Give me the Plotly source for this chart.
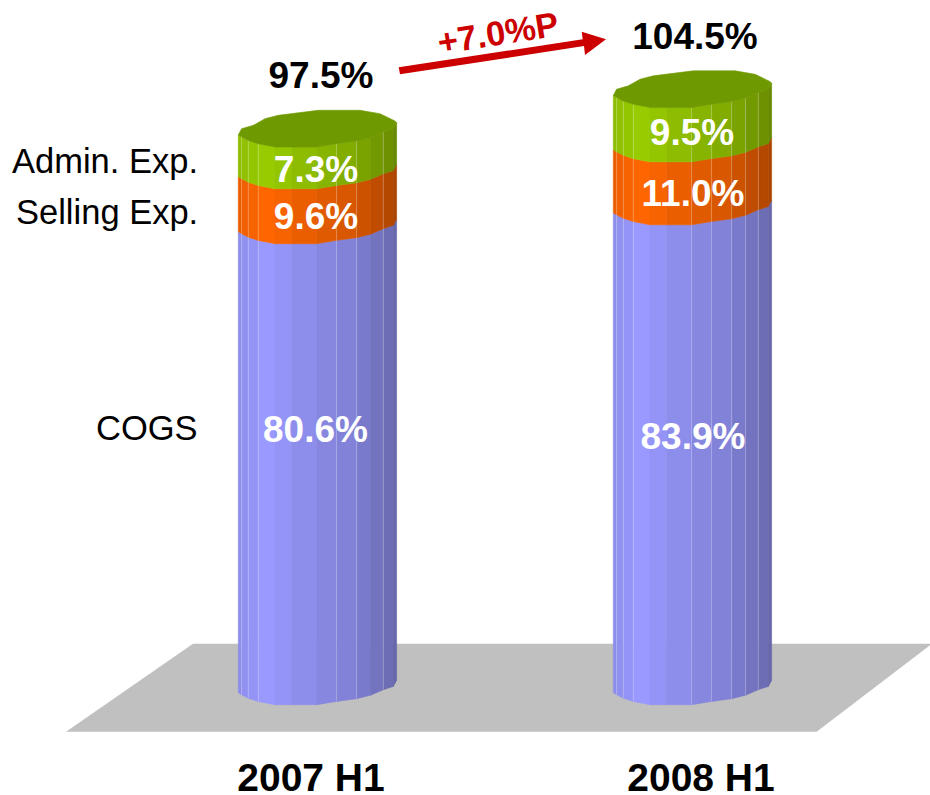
import plotly.graph_objects as go

# ---- chart values -------------------------------------------------
categories = ["2007 H1", "2008 H1"]
cogs = [80.6, 83.9]
selling = [9.6, 11.0]
admin = [7.3, 9.5]
totals = [97.5, 104.5]
series_names = ["COGS", "Selling Exp.", "Admin. Exp."]
change_label = "+7.0%P"

# ---- geometry and style -------------------------------------------
W, H = 930, 795
BASE_PX = 704.7          # pixel row of value 0 at the column's front
PX_PER_UNIT = 5.72
BAR_LEFT = [238.3, 613.3]
# column outline measured from its left edge, in px
FACET_X = [0, 3.3, 10, 20, 36.7, 53.3, 78.3, 98.3, 118.3, 132.3, 145, 155, 158.3]
FRONT_RISE = [12, 10, 6.5, 3.2, 0, 0, 0, 3.3, 6, 9.5, 15, 18.3, 24.3]
BACK_X = [158.3, 156.7, 141.7, 121.7, 80, 40, 26.7, 15, 3.3, 0]
BACK_RISE = [24.3, 26, 33.3, 36.7, 36.7, 31.7, 28.3, 21.7, 18.3, 12]
SHADE = [.92, .94, .97, 1, .97, .92, .88, .85, .80, .75, .71, .67]
SEG_RGB = [(153, 153, 255), (255, 102, 0), (153, 204, 0)]
TOP_COLOR = "#6F9900"
SEAMS = [[1, 2, 3, 7, 8, 10], [1, 2, 3, 6, 7, 8, 9, 10]]
LABEL_X = [[315.5, 316, 316], [693, 693, 692]]
LABEL_SHIFT = [[7.2, -0.7, -0.85], [4.35, -0.55, -0.15]]
TOTAL_X = [321, 695]
TOTAL_SHIFT = [11.9, 11.7]
CAT_X = [311, 701]
FONT = "Liberation Sans"


def val(rise_px):
    return rise_px / PX_PER_UNIT


def px_y(row):
    return (BASE_PX - row) / PX_PER_UNIT


def paper_path(points):
    return "M " + " L ".join(f"{x},{1 - y / H:.5f}" for x, y in points) + " Z"


segments = [cogs, selling, admin]
fig = go.Figure()

# faceted column bodies
stack_base = [0.0, 0.0]
for s, seg in enumerate(segments):
    r, g, b = SEG_RGB[s]
    for f, m in enumerate(SHADE):
        xs, ys = [], []
        for i in range(2):
            lo = stack_base[i]
            hi = lo + seg[i]
            xl = BAR_LEFT[i] + FACET_X[f]
            xr = BAR_LEFT[i] + FACET_X[f + 1]
            rl, rr = val(FRONT_RISE[f]), val(FRONT_RISE[f + 1])
            xs += [xl, xr, xr, xl, xl, None]
            ys += [lo + rl, lo + rr, hi + rr, hi + rl, lo + rl, None]
        colour = f"rgb({round(r * m)},{round(g * m)},{round(b * m)})"
        fig.add_trace(go.Scatter(x=xs, y=ys, mode="lines", fill="toself",
                                 fillcolor=colour, line=dict(color=colour, width=0.6),
                                 hoverinfo="skip", showlegend=False))
    stack_base = [stack_base[i] + seg[i] for i in range(2)]

# light seams between facets
sx, sy = [], []
for i in range(2):
    for k in SEAMS[i]:
        x = BAR_LEFT[i] + FACET_X[k]
        sx += [x, x, None]
        sy += [val(FRONT_RISE[k]), stack_base[i] + val(FRONT_RISE[k]), None]
fig.add_trace(go.Scatter(x=sx, y=sy, mode="lines",
                         line=dict(color="rgba(255,255,255,0.28)", width=1),
                         hoverinfo="skip", showlegend=False))

# column tops
tx, ty = [], []
for i in range(2):
    top = stack_base[i]
    tx += [BAR_LEFT[i] + x for x in FACET_X] + [BAR_LEFT[i] + x for x in BACK_X] + [None]
    ty += [top + val(r) for r in FRONT_RISE] + [top + val(r) for r in BACK_RISE] + [None]
fig.add_trace(go.Scatter(x=tx, y=ty, mode="lines", fill="toself", fillcolor=TOP_COLOR,
                         line=dict(color=TOP_COLOR, width=0.6),
                         hoverinfo="skip", showlegend=False))

# value labels inside the columns
stack_base = [0.0, 0.0]
for s, seg in enumerate(segments):
    fig.add_trace(go.Scatter(
        x=[LABEL_X[i][s] for i in range(2)],
        y=[stack_base[i] + seg[i] / 2 + LABEL_SHIFT[i][s] for i in range(2)],
        mode="text", text=[f"{v:.1f}%" for v in seg], textposition="middle center",
        textfont=dict(family=FONT, size=37, color="white", weight="bold"),
        hoverinfo="skip", showlegend=False, cliponaxis=False))
    stack_base = [stack_base[i] + seg[i] for i in range(2)]

# totals
fig.add_trace(go.Scatter(
    x=TOTAL_X, y=[totals[i] + TOTAL_SHIFT[i] for i in range(2)],
    mode="text", text=[f"{v:.1f}%" for v in totals], textposition="middle center",
    textfont=dict(family=FONT, size=37, color="black", weight="bold"),
    hoverinfo="skip", showlegend=False, cliponaxis=False))

# category labels
fig.add_trace(go.Scatter(
    x=CAT_X, y=[px_y(781)] * 2, mode="text", text=categories, textposition="middle center",
    textfont=dict(family=FONT, size=39, color="black", weight="bold"),
    hoverinfo="skip", showlegend=False, cliponaxis=False))

# series names at the left
for name, row in zip(series_names, [428, 212, 161]):
    fig.add_annotation(x=200, y=px_y(row), text=name, showarrow=False, xanchor="right",
                       yanchor="middle", font=dict(family=FONT, size=34.5, color="black"))

# change label
fig.add_annotation(x=498, y=px_y(33), text=change_label, showarrow=False, textangle=-9,
                   font=dict(family=FONT, size=34.5, color="#CC0000", weight="bold"))

shapes = [
    # floor
    dict(type="path", xref="x", yref="paper", layer="below", line=dict(width=0),
         fillcolor="#C0C0C0",
         path=paper_path([(193, 643.7), (932, 643.7), (816.7, 731.7), (66, 731.7)])),
    # arrow
    dict(type="path", xref="x", yref="paper", layer="above", line=dict(width=0),
         fillcolor="#CC0000",
         path=paper_path([(398.7, 67.3), (582.7, 39.3), (581.7, 31.7), (606, 39.3),
                          (585, 55), (584, 46), (400, 74.3)])),
]

fig.update_layout(
    width=W, height=H, margin=dict(l=0, r=0, t=0, b=0),
    paper_bgcolor="white", plot_bgcolor="white", showlegend=False, shapes=shapes,
    xaxis=dict(range=[0, W], visible=False, fixedrange=True),
    yaxis=dict(range=[px_y(H), px_y(0)], visible=False, fixedrange=True),
)
fig.write_html("out.html", config=dict(displayModeBar=False),
               post_script="document.body.style.margin='0';document.body.style.overflow='hidden';")
